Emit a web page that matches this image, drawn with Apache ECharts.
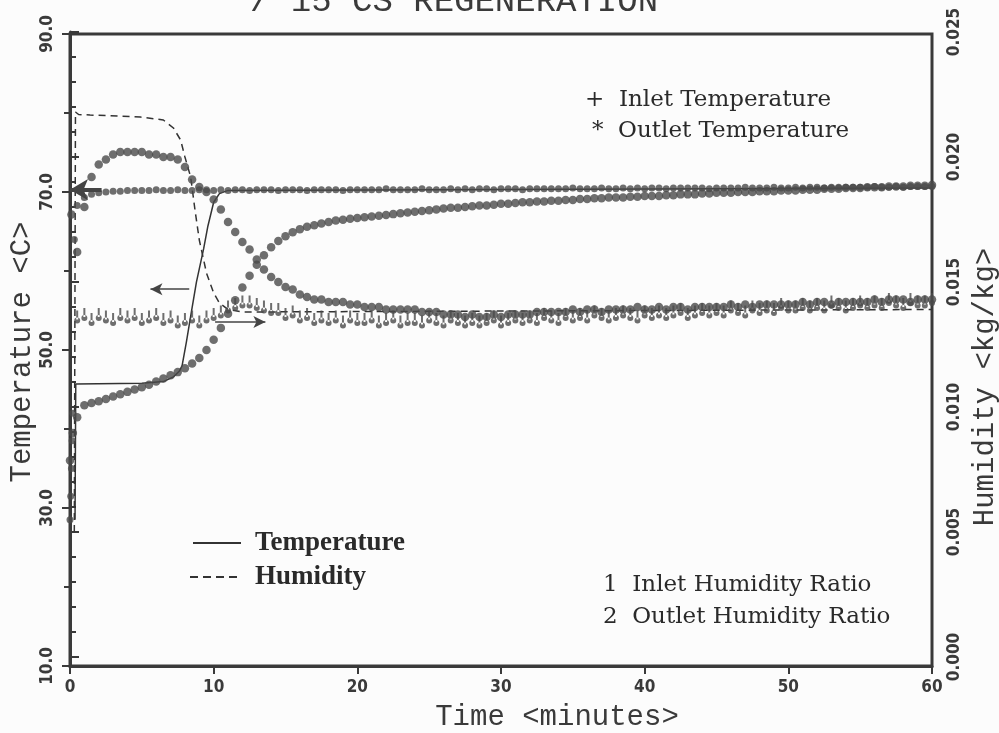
<!DOCTYPE html>
<html><head><meta charset="utf-8">
<script src="https://cdn.jsdelivr.net/npm/echarts@6/dist/echarts.min.js"></script>
<style>html,body{margin:0;padding:0;background:#fcfcfc}#c{width:999px;height:733px}</style>
</head><body><div id="c"></div>
<script>
// ---- data ----
const sampleStep = 0.5;           // minutes between regular samples, starting at t = 0.5
const xTicks = [0, 10, 20, 30, 40, 50, 60];
const tempTicks = [10, 30, 50, 70, 90];
const humTicks = [0, 0.005, 0.010, 0.015, 0.020, 0.025];

const inletTempEarly = [[0.0, 28.5], [0.05, 31.5], [0.1, 35.0], [0.15, 38.5], [0.2, 42.0], [0.3, 64.0]];
const inletTemp = [
 68.3,69.3,69.7,69.9,70.0,70.1,70.1,70.2,70.2,70.2,
 70.2,70.3,70.2,70.2,70.3,70.2,70.2,70.3,70.3,70.2,
 70.3,70.2,70.3,70.3,70.2,70.3,70.3,70.3,70.2,70.3,
 70.3,70.3,70.2,70.3,70.3,70.3,70.3,70.2,70.3,70.3,
 70.3,70.3,70.3,70.4,70.3,70.3,70.3,70.3,70.4,70.3,
 70.3,70.3,70.4,70.3,70.4,70.3,70.4,70.4,70.3,70.4,
 70.4,70.4,70.3,70.4,70.4,70.4,70.4,70.4,70.4,70.5,
 70.4,70.4,70.4,70.5,70.4,70.4,70.5,70.4,70.5,70.4,
 70.5,70.5,70.4,70.5,70.5,70.5,70.5,70.5,70.4,70.5,
 70.5,70.5,70.5,70.6,70.5,70.5,70.5,70.6,70.5,70.5,
 70.6,70.5,70.6,70.6,70.5,70.6,70.6,70.6,70.6,70.6,
 70.6,70.7,70.6,70.6,70.7,70.6,70.7,70.7,70.7,70.7];

const outletTempEarly = [[0.0, 36.0], [0.2, 39.5]];
const outletTemp = [
 41.5,43.0,43.3,43.5,43.8,44.1,44.4,44.7,45.0,45.3,
 45.6,46.0,46.4,46.8,47.2,47.7,48.3,49.0,50.0,51.3,
 52.8,54.6,56.3,57.9,59.4,60.8,62.0,63.0,63.8,64.4,
 64.9,65.3,65.6,65.8,66.0,66.2,66.4,66.5,66.6,66.7,
 66.8,66.9,67.0,67.1,67.2,67.3,67.4,67.5,67.6,67.7,
 67.8,67.9,68.0,68.0,68.1,68.2,68.3,68.3,68.4,68.5,
 68.5,68.6,68.7,68.7,68.8,68.8,68.9,68.9,69.0,69.0,
 69.1,69.1,69.2,69.2,69.3,69.3,69.3,69.4,69.4,69.5,
 69.5,69.5,69.6,69.6,69.7,69.7,69.7,69.8,69.8,69.9,
 69.9,69.9,70.0,70.0,70.0,70.1,70.1,70.1,70.2,70.2,
 70.2,70.3,70.3,70.3,70.4,70.4,70.4,70.5,70.5,70.5,
 70.6,70.6,70.6,70.7,70.7,70.7,70.8,70.8,70.8,70.9];

const inletHum = [
 0.0136,0.0137,0.0135,0.0137,0.0136,0.0135,0.0137,0.0136,0.0137,0.0135,
 0.0136,0.0137,0.0135,0.0136,0.0134,0.0135,0.0136,0.0134,0.0136,0.0137,
 0.0138,0.0140,0.0141,0.0142,0.0142,0.0141,0.0140,0.0139,0.0139,0.0137,
 0.0138,0.0136,0.0137,0.0135,0.0136,0.0135,0.0136,0.0134,0.0136,0.0135,
 0.0135,0.0136,0.0134,0.0135,0.0136,0.0134,0.0135,0.0135,0.0134,0.0136,
 0.0135,0.0134,0.0136,0.0135,0.0134,0.0135,0.0134,0.0135,0.0136,0.0134,
 0.0135,0.0136,0.0135,0.0136,0.0135,0.0137,0.0136,0.0135,0.0137,0.0136,
 0.0137,0.0136,0.0138,0.0137,0.0136,0.0137,0.0138,0.0137,0.0136,0.0138,
 0.0137,0.0138,0.0137,0.0138,0.0139,0.0137,0.0138,0.0139,0.0138,0.0139,
 0.0138,0.0140,0.0139,0.0138,0.0140,0.0139,0.0140,0.0139,0.0141,0.0140,
 0.0140,0.0141,0.0140,0.0141,0.0140,0.0142,0.0141,0.0140,0.0141,0.0142,
 0.0141,0.0142,0.0141,0.0143,0.0142,0.0141,0.0143,0.0142,0.0142,0.0143];

const outletHumEarly = [[0.1, 0.0177]];
const outletHum = [
 0.0162,0.0180,0.0192,0.0197,0.0199,0.0201,0.0202,0.0202,0.0202,0.0202,
 0.0201,0.0201,0.0200,0.0200,0.0199,0.0196,0.0191,0.0188,0.0186,0.0183,
 0.0179,0.0174,0.0170,0.0166,0.0163,0.0159,0.0155,0.0152,0.0150,0.0148,
 0.0147,0.0145,0.0144,0.0143,0.0143,0.0142,0.0142,0.0142,0.0141,0.0141,
 0.0140,0.0140,0.0140,0.0139,0.0139,0.0139,0.0139,0.0139,0.0138,0.0138,
 0.0138,0.0137,0.0137,0.0137,0.0136,0.0137,0.0136,0.0136,0.0137,0.0136,
 0.0137,0.0137,0.0137,0.0137,0.0138,0.0138,0.0138,0.0138,0.0138,0.0139,
 0.0138,0.0139,0.0139,0.0138,0.0139,0.0139,0.0139,0.0139,0.0140,0.0139,
 0.0139,0.0140,0.0139,0.0140,0.0140,0.0139,0.0140,0.0140,0.0140,0.0140,
 0.0140,0.0141,0.0140,0.0141,0.0140,0.0141,0.0141,0.0141,0.0141,0.0141,
 0.0141,0.0142,0.0141,0.0142,0.0142,0.0141,0.0142,0.0142,0.0142,0.0142,
 0.0142,0.0143,0.0142,0.0143,0.0143,0.0143,0.0142,0.0143,0.0143,0.0143];

const modelTemp = [[0.35,28.5],[0.4,45.7],[5.0,45.8],[6.5,46.0],[7.2,46.6],[7.6,47.3],[7.8,48.0],
 [8.1,51.0],[8.4,54.3],[8.8,58.6],[9.3,62.8],[9.6,65.7],[10.0,68.7],[10.4,69.8],[11.0,70.2],[60,70.5]];
const modelHum = [[0.3,0.0050],[0.38,0.0218],[0.6,0.0217],[1.4,0.02168],[4.9,0.0216],[6.5,0.02148],
 [7.2,0.02116],[7.7,0.02068],[8.0,0.0200],[8.4,0.0192],[8.7,0.01788],[9.0,0.01668],[9.5,0.01536],
 [10.0,0.01456],[10.4,0.01416],[11.0,0.0139],[12.0,0.0138],[60,0.0139]];

// arrows telling which axis each model curve belongs to
const arrowTempLeft = [[8.3, 57.7], [5.6, 57.7]];
const arrowHumRight = [[10.1, 0.01340], [13.6, 0.01340]];
const arrowInlet = [[2.2, 70.3], [0.0, 70.3]];

// ---- build ----
function regular(vals) { return vals.map((v, i) => [+(sampleStep * (i + 1)).toFixed(2), v]); }
const INK = '#3a3a3a', DOT = '#4a4a4a';
const tickFont = { fontFamily: '"Liberation Sans Narrow","DejaVu Sans Condensed",sans-serif', fontWeight: 'bold', fontSize: 17, color: INK };
const oneSymbol = 'path://M4,0 L6,0 L6,9 L4,9 Z M2,10 A3,3 0 1,0 8,10 A3,3 0 1,0 2,10 Z';
const serifFont = '23px "DejaVu Serif", serif';
const monoFont = '29px "Liberation Mono", monospace';

const chart = echarts.init(document.getElementById('c'), null, { renderer: 'canvas' });
chart.setOption({
  backgroundColor: '#fcfcfc',
  animation: false,
  grid: [
    { left: 70, right: 67, top: 34, bottom: 67, show: true, borderColor: INK, borderWidth: 3, backgroundColor: 'transparent', containLabel: false, outerBoundsMode: 'none' },
    { left: 70, right: 67, top: 32, bottom: 76, containLabel: false, outerBoundsMode: 'none' }
  ],
  xAxis: [
    { gridIndex: 0, type: 'value', min: 0, max: 60, interval: 10,
      axisLine: { lineStyle: { color: INK, width: 3 } },
      axisTick: { show: true, length: 8, lineStyle: { color: INK, width: 2 } },
      axisLabel: Object.assign({ margin: 13 }, tickFont),
      splitLine: { show: false } },
    { gridIndex: 1, type: 'value', min: 0, max: 60, show: false }
  ],
  yAxis: [
    { gridIndex: 0, type: 'value', min: 10, max: 90, interval: 20, position: 'left',
      axisLine: { show: true, lineStyle: { color: INK, width: 3 } },
      axisTick: { show: true, length: 8, lineStyle: { color: INK, width: 2 } },
      minorTick: { show: true, splitNumber: 2, length: 6, lineStyle: { color: INK, width: 2 } },
      axisLabel: Object.assign({ rotate: 90, margin: 14, formatter: v => v.toFixed(1) }, tickFont),
      splitLine: { show: false } },
    { gridIndex: 1, type: 'value', min: 0, max: 0.025, interval: 0.005, position: 'right',
      axisLine: { show: true, lineStyle: { color: INK, width: 3 } },
      axisTick: { show: true, length: 9, lineStyle: { color: INK, width: 2 } },
      minorTick: { show: true, splitNumber: 5, length: 6, lineStyle: { color: INK, width: 2 } },
      axisLabel: Object.assign({ rotate: 90, margin: 14, formatter: v => v.toFixed(3) }, tickFont),
      splitLine: { show: false } }
  ],
  series: [
    { name: 'Temperature', type: 'line', xAxisIndex: 0, yAxisIndex: 0, data: modelTemp, showSymbol: false,
      lineStyle: { color: '#333', width: 1.5 }, z: 3,
      markLine: { silent: true, symbol: ['none', 'arrow'], symbolSize: [9, 12], label: { show: false },
        lineStyle: { color: '#444', width: 1.5, type: 'solid' },
        data: [
          [{ coord: arrowTempLeft[0] }, { coord: arrowTempLeft[1] }],
          [{ coord: arrowInlet[0], lineStyle: { width: 4, color: '#444' } }, { coord: arrowInlet[1], symbolSize: [16, 18] }]
        ] } },
    { name: 'Humidity', type: 'line', xAxisIndex: 1, yAxisIndex: 1, data: modelHum, showSymbol: false,
      lineStyle: { color: '#333', width: 1.5, type: [7, 5] }, z: 3,
      markLine: { silent: true, symbol: ['none', 'arrow'], symbolSize: [9, 12], label: { show: false },
        lineStyle: { color: '#444', width: 1.5, type: 'solid' },
        data: [[{ coord: arrowHumRight[0] }, { coord: arrowHumRight[1] }]] } },
    { name: 'Inlet Temperature', type: 'scatter', xAxisIndex: 0, yAxisIndex: 0,
      data: inletTempEarly.concat(regular(inletTemp)), symbol: 'circle', symbolSize: 7,
      itemStyle: { color: DOT }, z: 4 },
    { name: 'Outlet Temperature', type: 'scatter', xAxisIndex: 0, yAxisIndex: 0,
      data: outletTempEarly.concat(regular(outletTemp)), symbol: 'circle', symbolSize: 8.5,
      itemStyle: { color: DOT }, z: 4 },
    { name: 'Inlet Humidity Ratio', type: 'scatter', xAxisIndex: 1, yAxisIndex: 1,
      data: regular(inletHum), symbol: oneSymbol, symbolSize: [6, 13],
      itemStyle: { color: DOT }, z: 4 },
    { name: 'Outlet Humidity Ratio', type: 'scatter', xAxisIndex: 1, yAxisIndex: 1,
      data: outletHumEarly.concat(regular(outletHum)), symbol: 'circle', symbolSize: 8.5,
      itemStyle: { color: DOT }, z: 4 }
  ],
  graphic: [
    { type: 'text', x: 250, y: -15, style: { text: '/ 15 CS REGENERATION', font: '34px "Liberation Mono", monospace', fill: INK } },
    { type: 'text', x: 22, y: 352, rotation: Math.PI / 2, style: { text: 'Temperature <C>', font: monoFont, fill: INK, textAlign: 'center', textVerticalAlign: 'middle' } },
    { type: 'text', x: 557, y: 717, style: { text: 'Time <minutes>', font: monoFont, fill: INK, textAlign: 'center', textVerticalAlign: 'middle' } },
    { type: 'text', x: 985, y: 387, rotation: Math.PI / 2, style: { text: 'Humidity <kg/kg>', font: monoFont, fill: INK, textAlign: 'center', textVerticalAlign: 'middle' } },
    { type: 'text', x: 585, y: 100, style: { text: '+  Inlet Temperature', font: serifFont, fill: '#2a2a2a', textVerticalAlign: 'middle' } },
    { type: 'text', x: 592, y: 131, style: { text: '*  Outlet Temperature', font: serifFont, fill: '#2a2a2a', textVerticalAlign: 'middle' } },
    { type: 'line', shape: { x1: 193, y1: 543, x2: 241, y2: 543 }, style: { stroke: '#333', lineWidth: 2 } },
    { type: 'text', x: 255, y: 543, style: { text: 'Temperature', font: 'bold 27px "Liberation Serif", serif', fill: '#2a2a2a', textVerticalAlign: 'middle' } },
    { type: 'line', shape: { x1: 190, y1: 577, x2: 241, y2: 577 }, style: { stroke: '#333', lineWidth: 2, lineDash: [8, 5] } },
    { type: 'text', x: 255, y: 577, style: { text: 'Humidity', font: 'bold 27px "Liberation Serif", serif', fill: '#2a2a2a', textVerticalAlign: 'middle' } },
    { type: 'text', x: 603, y: 585, style: { text: '1  Inlet Humidity Ratio', font: serifFont, fill: '#2a2a2a', textVerticalAlign: 'middle' } },
    { type: 'text', x: 603, y: 617, style: { text: '2  Outlet Humidity Ratio', font: serifFont, fill: '#2a2a2a', textVerticalAlign: 'middle' } }
  ]
});
</script></body></html>
